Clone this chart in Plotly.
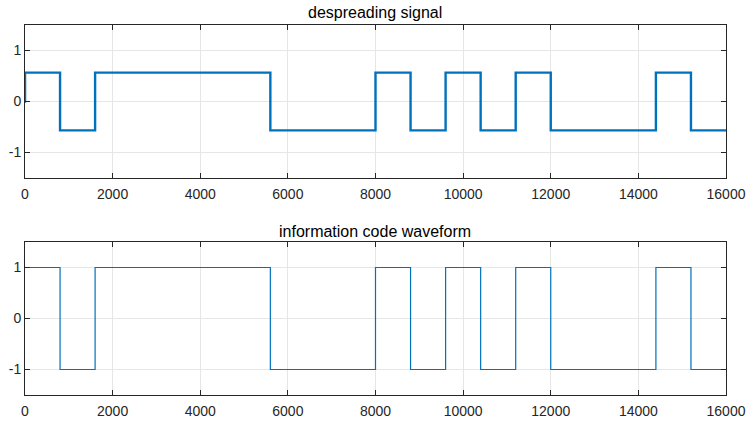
import plotly.graph_objects as go
from plotly.subplots import make_subplots

# Information bits, one per 800-sample symbol
bits = [1, -1, 1, 1, 1, 1, 1, -1, -1, -1, 1, -1, 1, -1, 1, -1, -1, -1, 1, -1]
samples_per_bit = 800
despread_amp = 0.566          # amplitude of the recovered (despread) signal
x_ticks = [0, 2000, 4000, 6000, 8000, 10000, 12000, 14000, 16000]
x_tick_text = ["0", "2000", "4000", "6000", "8000", "10000", "12000", "14000", "16000"]
y_ticks = [-1, 0, 1]
y_tick_text = ["-1", "0", "1"]

# Step waveforms (hv shape): a point at the start of each bit plus the end point
x_steps = [i * samples_per_bit for i in range(len(bits))] + [len(bits) * samples_per_bit]
info = bits + [bits[-1]]
despread = [despread_amp * b for b in info]

# despread signal starts from zero at the first sample
x_top = [0] + [x if x > 0 else 1 for x in x_steps]
y_top = [0] + despread

COLOR = "#0072BD"
FONT = "Liberation Sans, Arial, sans-serif"

fig = make_subplots(rows=2, cols=1)
fig.add_trace(go.Scatter(x=x_top, y=y_top, mode="lines", line_shape="hv",
                         line=dict(color=COLOR, width=2.4)), row=1, col=1)
fig.add_trace(go.Scatter(x=x_steps, y=info, mode="lines", line_shape="hv",
                         line=dict(color=COLOR, width=1.2)), row=2, col=1)

W, H = 748, 422
x_dom = [25 / W, 726 / W]
top_dom = [1 - 178 / H, 1 - 25 / H]
bot_dom = [1 - 395 / H, 1 - 242 / H]

axis_common = dict(showline=True, linecolor="#262626", linewidth=1, mirror="allticks",
                   ticks="inside", ticklen=5, tickcolor="#262626", automargin=False,
                   showgrid=True, gridcolor="#e6e6e6", gridwidth=1, zeroline=False,
                   tickfont=dict(family=FONT, size=14, color="#262626"))

fig.update_xaxes(range=[0, 16000], tickvals=x_ticks, ticktext=x_tick_text,
                 domain=x_dom, ticklabelstandoff=3, **axis_common)
fig.update_yaxes(range=[-1.5, 1.5], tickvals=y_ticks, ticktext=y_tick_text, **axis_common)
fig.update_yaxes(domain=top_dom, row=1, col=1)
fig.update_yaxes(domain=bot_dom, row=2, col=1)

xc = 0.5 * (x_dom[0] + x_dom[1])
fig.add_annotation(text="despreading signal", x=xc, y=1 - 12.5 / H,
                   xref="paper", yref="paper", showarrow=False, yanchor="middle",
                   font=dict(family=FONT, size=16, color="#000000"))
fig.add_annotation(text="information code waveform", x=xc, y=1 - 231 / H,
                   xref="paper", yref="paper", showarrow=False, yanchor="middle",
                   font=dict(family=FONT, size=16, color="#000000"))

fig.update_layout(width=W, height=H, margin=dict(l=0, r=0, t=0, b=0, autoexpand=False),
                  paper_bgcolor="white", plot_bgcolor="white", showlegend=False)

fig.write_html("out.html")
